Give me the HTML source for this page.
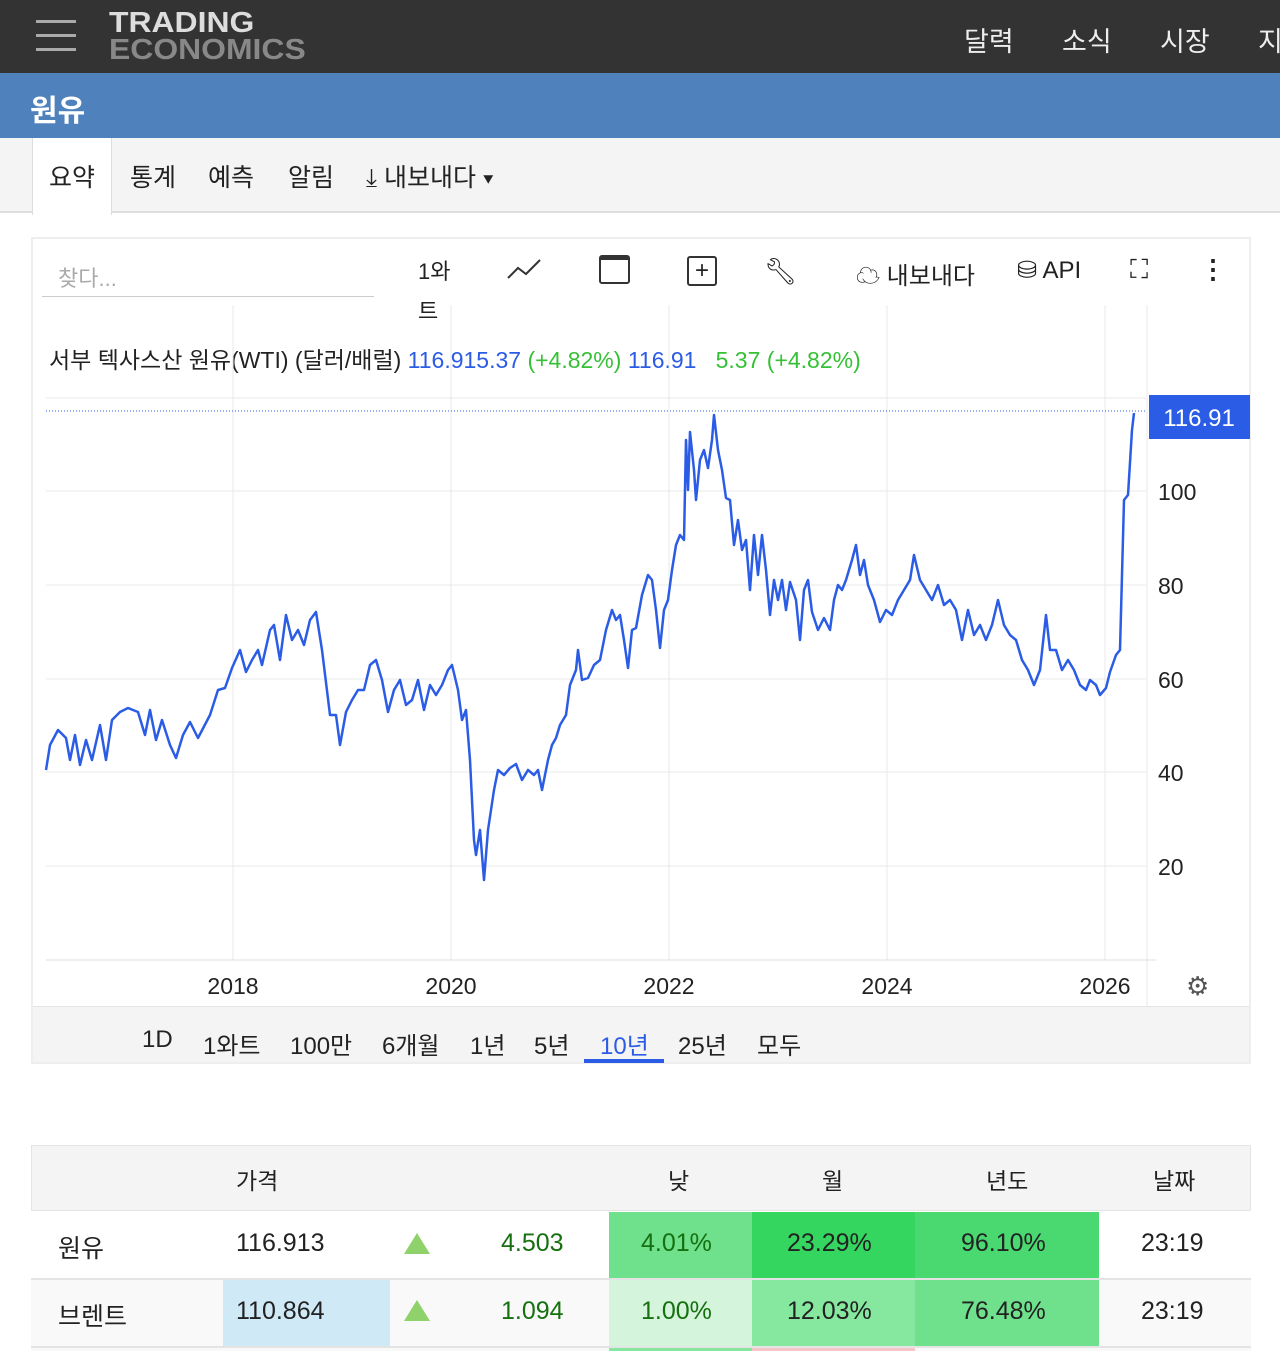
<!DOCTYPE html>
<html><head><meta charset="utf-8"><style>
*{margin:0;padding:0;box-sizing:border-box}
body{width:1280px;height:1351px;overflow:hidden;background:#fff;font-family:"Liberation Sans","Noto Sans CJK KR",sans-serif;color:#222;position:relative}
.a{position:absolute;white-space:nowrap}
.r{position:absolute;top:1026px;font-size:24px}
.t{position:absolute;font-size:25px}
</style></head><body>
<div class="a" style="left:0;top:0;width:1280px;height:73px;background:#333"></div>
<div class="a" style="left:36px;top:20px;width:40px;height:3px;background:#aaa;box-shadow:0 14px 0 #aaa,0 28px 0 #aaa"></div>
<div class="a" style="left:109px;top:10px;font-size:29px;font-weight:bold;line-height:27px;color:#ddd;letter-spacing:0px;transform:scaleX(1.1);transform-origin:left">TRADING<br><span style="color:#888">ECONOMICS</span></div>
<div class="a" style="left:964px;top:20px;font-size:27px;color:#eee">달력</div>
<div class="a" style="left:1062px;top:20px;font-size:27px;color:#eee">소식</div>
<div class="a" style="left:1160px;top:20px;font-size:27px;color:#eee">시장</div>
<div class="a" style="left:1258px;top:20px;font-size:27px;color:#eee">지</div>
<div class="a" style="left:0;top:73px;width:1280px;height:65px;background:#4f81bd"></div>
<div class="a" style="left:30px;top:86px;font-size:30px;font-weight:bold;color:#fff">원유</div>
<div class="a" style="left:0;top:138px;width:1280px;height:75px;background:#f4f4f4;border-bottom:2px solid #ddd"></div>
<div class="a" style="left:32px;top:138px;width:80px;height:77px;background:#fff;border-right:1px solid #ddd;border-left:1px solid #ddd"></div>
<div class="a" style="left:49px;top:158px;font-size:25px">요약</div>
<div class="a" style="left:130px;top:158px;font-size:25px">통계</div>
<div class="a" style="left:208px;top:158px;font-size:25px">예측</div>
<div class="a" style="left:288px;top:158px;font-size:25px">알림</div>
<div class="a" style="left:366px;top:158px;font-size:25px">⤓ 내보내다 ▾</div>

<div class="a" style="left:31px;top:237px;width:1220px;height:827px;border:2px solid #eee"></div>
<div class="a" style="left:42px;top:296px;width:332px;height:1px;background:#ccc"></div>
<div class="a" style="left:58px;top:261px;font-size:22px;color:#aaa">찾다...</div>
<div class="a" style="left:418px;top:252px;font-size:22px;line-height:40px">1와<br>트</div>
<svg class="a" style="left:506px;top:256px" width="36" height="26"><polyline points="2,22 12,12 20,18 34,4" fill="none" stroke="#333" stroke-width="2"/></svg>
<div class="a" style="left:599px;top:255px;width:31px;height:29px;border:2px solid #333;border-radius:3px;border-top-width:5px"></div>
<div class="a" style="left:687px;top:256px;width:30px;height:30px;border:2px solid #333;border-radius:3px;text-align:center;font-size:24px;line-height:26px">+</div>
<div class="a" style="left:764px;top:256px;font-size:26px">🔧︎</div>
<div class="a" style="left:856px;top:256px;font-size:24px">☁ 내보내다</div>
<div class="a" style="left:1017px;top:256px;font-size:24px">⛁ API</div>
<div class="a" style="left:1130px;top:254px;font-size:26px">⛶</div>
<div class="a" style="left:1200px;top:254px;font-size:26px;font-weight:bold">⋮</div>
<div class="a" style="left:49px;top:341px;font-size:23px">서부 텍사스산 원유(WTI) (달러/배럴) <span style="color:#2b5ce6">116.915.37</span> <span style="color:#35c135">(+4.82%)</span> <span style="color:#2b5ce6">116.91</span> &nbsp; <span style="color:#35c135">5.37 (+4.82%)</span></div>

<svg class="a" style="left:0;top:0" width="1280" height="1064">
<g stroke="#e8e8e8" stroke-width="1">
<line x1="46" y1="398" x2="1146" y2="398"/><line x1="46" y1="491" x2="1146" y2="491"/><line x1="46" y1="585" x2="1146" y2="585"/><line x1="46" y1="679" x2="1146" y2="679"/><line x1="46" y1="772" x2="1146" y2="772"/><line x1="46" y1="866" x2="1146" y2="866"/>
<line x1="233" y1="305" x2="233" y2="960"/><line x1="451" y1="305" x2="451" y2="960"/><line x1="669" y1="305" x2="669" y2="960"/><line x1="887" y1="305" x2="887" y2="960"/><line x1="1105" y1="305" x2="1105" y2="960"/><line x1="1147" y1="305" x2="1147" y2="1006"/>
</g>
<line x1="46" y1="960" x2="1156" y2="960" stroke="#ddd"/>
<line x1="46" y1="411" x2="1146" y2="411" stroke="#2b5ce6" stroke-dasharray="1,2"/>
<polyline fill="none" stroke="#2b5ce6" stroke-width="2.5" stroke-linejoin="round" points="46,770 50,745 58,730 66,738 70,760 75,735 80,765 86,740 92,760 100,725 106,760 112,720 120,712 128,708 138,712 145,735 150,710 156,740 162,720 170,745 176,758 183,735 190,722 198,738 210,715 218,690 225,688 232,668 240,650 246,672 252,660 258,650 262,665 270,630 274,625 280,660 286,615 292,640 298,630 304,645 310,620 316,612 322,650 330,715 336,715 340,745 346,712 352,700 358,690 364,690 370,665 376,660 382,680 388,712 394,690 400,680 406,705 412,700 418,680 424,710 430,685 436,695 442,685 448,670 452,665 458,690 462,720 466,710 470,760 474,840 476,855 480,830 484,880 488,830 494,790 498,770 504,775 510,768 516,764 522,780 528,770 534,775 538,770 542,790 548,760 552,745 556,738 560,725 566,715 570,685 576,670 578,650 582,680 588,678 594,665 600,660 606,630 612,610 616,620 620,615 624,640 628,668 632,630 636,628 642,595 648,575 652,580 656,610 660,648 664,610 668,600 672,570 676,545 680,535 684,540 686,440 688,490 690,432 694,470 696,500 700,460 704,450 708,468 712,440 714,415 718,450 722,470 726,498 730,500 734,545 738,520 742,550 746,540 750,590 754,535 758,575 762,535 766,570 770,615 774,580 778,600 782,580 786,610 790,582 796,600 800,640 804,590 808,580 812,612 818,630 824,618 830,630 834,600 838,585 842,590 846,580 852,560 856,545 860,575 864,560 868,585 874,600 880,622 886,610 892,615 898,600 904,590 910,580 914,555 920,580 926,590 932,600 938,585 944,605 950,600 956,610 962,640 968,610 974,635 980,625 986,640 992,625 998,600 1004,625 1010,635 1016,640 1022,660 1028,670 1034,685 1040,670 1046,615 1050,650 1056,650 1062,670 1068,660 1074,670 1080,685 1086,690 1090,680 1096,685 1100,695 1106,688 1110,672 1116,655 1120,650 1124,500 1128,495 1132,430 1134,413"/>
<g font-family="Liberation Sans,sans-serif" font-size="23" fill="#222">
<text x="1158" y="500">100</text><text x="1158" y="594">80</text><text x="1158" y="688">60</text><text x="1158" y="781">40</text><text x="1158" y="875">20</text>
<text x="233" y="994" text-anchor="middle">2018</text><text x="451" y="994" text-anchor="middle">2020</text><text x="669" y="994" text-anchor="middle">2022</text><text x="887" y="994" text-anchor="middle">2024</text><text x="1105" y="994" text-anchor="middle">2026</text>
</g>
<rect x="1149" y="395" width="101" height="44" fill="#2b5ce6"/>
<text x="1199" y="426" text-anchor="middle" font-family="Liberation Sans,sans-serif" font-size="24" fill="#fff">116.91</text>
<text x="1186" y="995" font-size="26" fill="#555">⚙</text>
</svg>
<div class="a" style="left:33px;top:1006px;width:1216px;height:56px;background:#f4f4f4;border-top:1px solid #e4e4e4"></div>
<div class="r" style="left:142px">1D</div>
<div class="r" style="left:203px">1와트</div>
<div class="r" style="left:290px">100만</div>
<div class="r" style="left:382px">6개월</div>
<div class="r" style="left:470px">1년</div>
<div class="r" style="left:534px">5년</div>
<div class="r" style="left:600px;color:#2b5ce6">10년</div>
<div class="r" style="left:678px">25년</div>
<div class="r" style="left:757px">모두</div>
<div class="a" style="left:584px;top:1059px;width:80px;height:4px;background:#2b5ce6"></div>

<div class="a" style="left:31px;top:1145px;width:1220px;height:66px;background:#f4f4f4;border:1px solid #e4e4e4"></div>
<div class="a" style="left:236px;top:1162px;font-size:23px">가격</div>
<div class="a" style="left:668px;top:1162px;font-size:23px">낮</div>
<div class="a" style="left:822px;top:1162px;font-size:23px">월</div>
<div class="a" style="left:986px;top:1162px;font-size:23px">년도</div>
<div class="a" style="left:1153px;top:1162px;font-size:23px">날짜</div>
<div class="a" style="left:31px;top:1278px;width:1220px;height:73px;background:#f9f9f9;border-top:2px solid #e4e4e4"></div>
<div class="a" style="left:223px;top:1280px;width:167px;height:66px;background:#cfe9f7"></div>
<div class="a" style="left:609px;top:1212px;width:143px;height:66px;background:#6fe08c"></div>
<div class="a" style="left:752px;top:1212px;width:163px;height:66px;background:#35d660"></div>
<div class="a" style="left:915px;top:1212px;width:184px;height:66px;background:#4ad871"></div>
<div class="a" style="left:609px;top:1280px;width:143px;height:66px;background:#d4f5dc"></div>
<div class="a" style="left:752px;top:1280px;width:163px;height:66px;background:#86e79f"></div>
<div class="a" style="left:915px;top:1280px;width:184px;height:66px;background:#6fe08c"></div>
<div class="a" style="left:609px;top:1347px;width:143px;height:4px;background:#86e79f"></div>
<div class="a" style="left:752px;top:1347px;width:163px;height:4px;background:#f7c6c6"></div>
<div class="a" style="left:31px;top:1346px;width:1220px;height:2px;background:#e4e4e4"></div>
<svg class="a" style="left:404px;top:1233px" width="26" height="90"><polygon points="13,0 26,21 0,21" fill="#8fd16a"/><polygon points="13,67 26,88 0,88" fill="#8fd16a"/></svg>
<div class="t" style="left:58px;top:1229px">원유</div>
<div class="t" style="left:236px;top:1229px">116.913</div>
<div class="t" style="left:501px;top:1229px;color:#16700f">4.503</div>
<div class="t" style="left:641px;top:1229px;color:#16700f">4.01%</div>
<div class="t" style="left:787px;top:1229px">23.29%</div>
<div class="t" style="left:961px;top:1229px">96.10%</div>
<div class="t" style="left:1141px;top:1229px">23:19</div>
<div class="t" style="left:58px;top:1297px">브렌트</div>
<div class="t" style="left:236px;top:1297px">110.864</div>
<div class="t" style="left:501px;top:1297px;color:#16700f">1.094</div>
<div class="t" style="left:641px;top:1297px;color:#16700f">1.00%</div>
<div class="t" style="left:787px;top:1297px">12.03%</div>
<div class="t" style="left:961px;top:1297px">76.48%</div>
<div class="t" style="left:1141px;top:1297px">23:19</div>
</body></html>
